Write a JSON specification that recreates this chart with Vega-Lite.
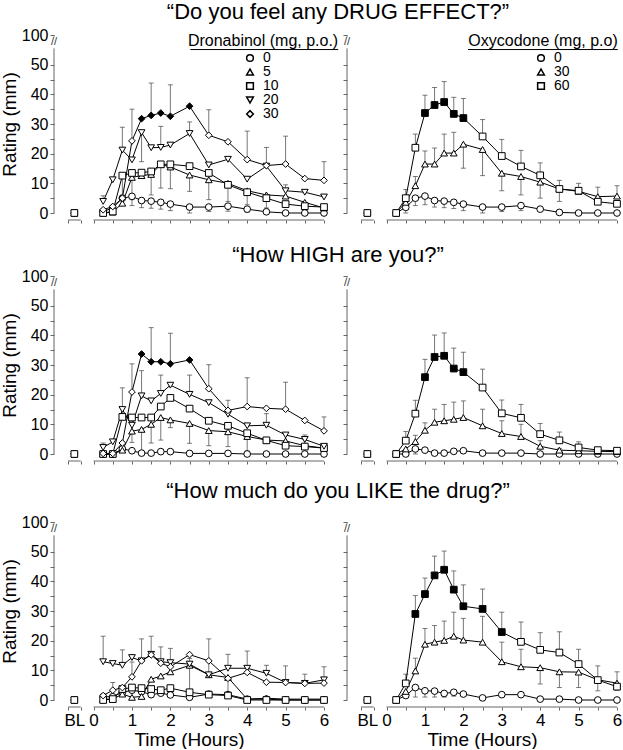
{
"$schema":"https://vega.github.io/schema/vega-lite/v6.json",
"config":{"font":"Liberation Sans","view":{"stroke":null},"axis":{"grid":false}},
"padding":{"left":0,"top":1,"right":0,"bottom":0},
"spacing":20,
"resolve":{"scale":{"shape":"independent"},"legend":{"shape":"independent"}},
"datasets":{
"effect_dro":[
{"dose":"0","t":-0.5,"r":0},
{"dose":"0","t":0.25,"r":0.5},{"dose":"0","t":0.5,"r":1.7},{"dose":"0","t":0.75,"r":5,"e":2.5},{"dose":"0","t":1,"r":5.6,"e":2.5},{"dose":"0","t":1.25,"r":4.2,"e":1.8},{"dose":"0","t":1.5,"r":4,"e":1.6},{"dose":"0","t":1.75,"r":3.6,"e":1.3},{"dose":"0","t":2,"r":3,"e":0.8},{"dose":"0","t":2.5,"r":2,"e":0},{"dose":"0","t":3,"r":2,"e":0.5},{"dose":"0","t":3.5,"r":2.3,"e":0.6},{"dose":"0","t":4,"r":1.3,"e":0.3},{"dose":"0","t":4.5,"r":0.4},{"dose":"0","t":5,"r":0},{"dose":"0","t":5.5,"r":0},{"dose":"0","t":6,"r":0},
{"dose":"5","t":0.25,"r":0},{"dose":"5","t":0.5,"r":0.3},{"dose":"5","t":0.75,"r":3.3},{"dose":"5","t":1,"r":12},{"dose":"5","t":1.25,"r":12.6},{"dose":"5","t":1.5,"r":13},{"dose":"5","t":1.75,"r":16.4,"e":8.4},{"dose":"5","t":2,"r":15.5,"e":8.2},{"dose":"5","t":2.5,"r":12.8,"e":7.3},{"dose":"5","t":3,"r":11.2,"e":4.5},{"dose":"5","t":3.5,"r":10},{"dose":"5","t":4,"r":7.5},{"dose":"5","t":4.5,"r":6.1},{"dose":"5","t":5,"r":5.7},{"dose":"5","t":5.5,"r":3.6},{"dose":"5","t":6,"r":1.7},
{"dose":"10","t":0.25,"r":0},{"dose":"10","t":0.5,"r":0.5},{"dose":"10","t":0.75,"r":12.6,"e":6},{"dose":"10","t":1,"r":13.5,"e":4.5},{"dose":"10","t":1.25,"r":13.6},{"dose":"10","t":1.5,"r":14,"e":6.1},{"dose":"10","t":1.75,"r":16.4},{"dose":"10","t":2,"r":16.4},{"dose":"10","t":2.5,"r":15.8},{"dose":"10","t":3,"r":13.5},{"dose":"10","t":3.5,"r":9.5,"e":3.9},{"dose":"10","t":4,"r":7,"e":2.8},{"dose":"10","t":4.5,"r":5,"e":1.7},{"dose":"10","t":5,"r":3},{"dose":"10","t":5.5,"r":2.3},{"dose":"10","t":6,"r":2},
{"dose":"20","t":0.25,"r":3.9,"e":5.8},{"dose":"20","t":0.5,"r":11.2},{"dose":"20","t":0.75,"r":21.2,"e":28.9},{"dose":"20","t":1,"r":17.9},{"dose":"20","t":1.25,"r":27.1,"e":17.3},{"dose":"20","t":1.5,"r":22},{"dose":"20","t":1.75,"r":22.1,"e":29.2},{"dose":"20","t":2,"r":22.9},{"dose":"20","t":2.5,"r":26.8,"e":30.7},{"dose":"20","t":3,"r":16.2},{"dose":"20","t":3.5,"r":18.1},{"dose":"20","t":4,"r":11.4},{"dose":"20","t":4.5,"r":15.8,"e":22.1},{"dose":"20","t":5,"r":7.5,"e":9.5},{"dose":"20","t":5.5,"r":7},{"dose":"20","t":6,"r":5.4},
{"dose":"30","t":0.25,"r":1.1},{"dose":"30","t":0.5,"r":2.2},{"dose":"30","t":0.75,"r":5},{"dose":"30","t":1,"r":24.3,"e":35},{"dose":"30","t":1.25,"r":31.8,"sig":1},{"dose":"30","t":1.5,"r":32.9,"e":43.8,"sig":1},{"dose":"30","t":1.75,"r":33.7,"sig":1},{"dose":"30","t":2,"r":32.6,"e":43.2,"sig":1},{"dose":"30","t":2.5,"r":36,"sig":1},{"dose":"30","t":3,"r":26.2,"e":34.8},{"dose":"30","t":3.5,"r":24},{"dose":"30","t":4,"r":18,"e":27.6},{"dose":"30","t":4.5,"r":16},{"dose":"30","t":5,"r":16.5,"e":25.9},{"dose":"30","t":5.5,"r":11.6},{"dose":"30","t":6,"r":11,"e":17.3},
{"dose":"5","t":-0.5,"r":0},{"dose":"20","t":-0.5,"r":0},{"dose":"30","t":-0.5,"r":0},{"dose":"10","t":-0.5,"r":0}
],
"effect_oxy":[
{"dose":"0","t":-0.5,"r":0},
{"dose":"0","t":0.25,"r":0},{"dose":"0","t":0.5,"r":1.9,"e":0},{"dose":"0","t":0.75,"r":5,"e":2.5},{"dose":"0","t":1,"r":5.7,"e":2.8},{"dose":"0","t":1.25,"r":4.2,"e":2},{"dose":"0","t":1.5,"r":4,"e":1.8},{"dose":"0","t":1.75,"r":3.6,"e":1.5},{"dose":"0","t":2,"r":3,"e":0.8},{"dose":"0","t":2.5,"r":2,"e":0},{"dose":"0","t":3,"r":2,"e":0.5},{"dose":"0","t":3.5,"r":2.5,"e":0.8},{"dose":"0","t":4,"r":1.3},{"dose":"0","t":4.5,"r":0.2},{"dose":"0","t":5,"r":0},{"dose":"0","t":5.5,"r":0},{"dose":"0","t":6,"r":0},
{"dose":"30","t":0.25,"r":0},{"dose":"30","t":0.5,"r":3.6},{"dose":"30","t":0.75,"r":9.2,"e":12.3},{"dose":"30","t":1,"r":16.5,"e":20.9},{"dose":"30","t":1.25,"r":16.5,"e":21.9},{"dose":"30","t":1.5,"r":20.2,"e":26.6},{"dose":"30","t":1.75,"r":20.2,"e":27.2},{"dose":"30","t":2,"r":23.2,"e":15.1},{"dose":"30","t":2.5,"r":21.4,"e":12.6},{"dose":"30","t":3,"r":13.4,"e":7.5},{"dose":"30","t":3.5,"r":12.3,"e":6.1},{"dose":"30","t":4,"r":10.4,"e":5},{"dose":"30","t":4.5,"r":8.1,"e":3.9},{"dose":"30","t":5,"r":7.3,"e":10},{"dose":"30","t":5.5,"r":5.5,"e":8.7},{"dose":"30","t":6,"r":5.7,"e":9.2},
{"dose":"60","t":0.25,"r":0},{"dose":"60","t":0.5,"r":5,"e":7.9},{"dose":"60","t":0.75,"r":22,"e":26.6},{"dose":"60","t":1,"r":33.7,"e":39.7,"sig":1},{"dose":"60","t":1.25,"r":36.4,"e":42.3,"sig":1},{"dose":"60","t":1.5,"r":37.4,"e":44.3,"sig":1},{"dose":"60","t":1.75,"r":33.4,"e":39,"sig":1},{"dose":"60","t":2,"r":32,"e":38.6,"sig":1},{"dose":"60","t":2.5,"r":25.8,"e":31.5},{"dose":"60","t":3,"r":19.2,"e":24.8},{"dose":"60","t":3.5,"r":15.7,"e":21.1},{"dose":"60","t":4,"r":12.7,"e":16.9},{"dose":"60","t":4.5,"r":8.1,"e":11},{"dose":"60","t":5,"r":7.5},{"dose":"60","t":5.5,"r":3.8},{"dose":"60","t":6,"r":3.1},
{"dose":"30","t":-0.5,"r":0},{"dose":"60","t":-0.5,"r":0}
],
"high_dro":[
{"dose":"0","t":-0.5,"r":0},
{"dose":"0","t":0.25,"r":0},{"dose":"0","t":0.5,"r":0},{"dose":"0","t":0.75,"r":1.7},{"dose":"0","t":1,"r":1.1},{"dose":"0","t":1.25,"r":0.3},{"dose":"0","t":1.5,"r":0.3},{"dose":"0","t":1.75,"r":0.8},{"dose":"0","t":2,"r":0.8},{"dose":"0","t":2.5,"r":0.2},{"dose":"0","t":3,"r":0.2},{"dose":"0","t":3.5,"r":0.2},{"dose":"0","t":4,"r":0},{"dose":"0","t":4.5,"r":0},{"dose":"0","t":5,"r":0},{"dose":"0","t":5.5,"r":0},{"dose":"0","t":6,"r":0},
{"dose":"5","t":0.25,"r":0},{"dose":"5","t":0.5,"r":0},{"dose":"5","t":0.75,"r":1.3},{"dose":"5","t":1,"r":7.7},{"dose":"5","t":1.25,"r":8.3,"e":0.5},{"dose":"5","t":1.5,"r":10,"e":3.7},{"dose":"5","t":1.75,"r":12.3,"e":4.7},{"dose":"5","t":2,"r":11.5,"e":8.9},{"dose":"5","t":2.5,"r":10.3,"e":3.6},{"dose":"5","t":3,"r":7.9,"e":2.8},{"dose":"5","t":3.5,"r":7.5,"e":2.5},{"dose":"5","t":4,"r":5.9,"e":1},{"dose":"5","t":4.5,"r":4.7},{"dose":"5","t":5,"r":4.4},{"dose":"5","t":5.5,"r":2.8},{"dose":"5","t":6,"r":2},
{"dose":"10","t":0.25,"r":0},{"dose":"10","t":0.5,"r":0},{"dose":"10","t":0.75,"r":12.5},{"dose":"10","t":1,"r":12.3,"e":3.9},{"dose":"10","t":1.25,"r":12.3},{"dose":"10","t":1.5,"r":12.3},{"dose":"10","t":1.75,"r":16},{"dose":"10","t":2,"r":18.9},{"dose":"10","t":2.5,"r":15.3},{"dose":"10","t":3,"r":11.2},{"dose":"10","t":3.5,"r":9.5},{"dose":"10","t":4,"r":7},{"dose":"10","t":4.5,"r":4.6},{"dose":"10","t":5,"r":2.8},{"dose":"10","t":5.5,"r":2.5},{"dose":"10","t":6,"r":2},
{"dose":"20","t":0.25,"r":2.2,"e":3.7},{"dose":"20","t":0.5,"r":4.1},{"dose":"20","t":0.75,"r":15,"e":22.3},{"dose":"20","t":1,"r":9.7},{"dose":"20","t":1.25,"r":19.6,"e":28.1},{"dose":"20","t":1.5,"r":17.9},{"dose":"20","t":1.75,"r":20.4,"e":26.6},{"dose":"20","t":2,"r":23.2},{"dose":"20","t":2.5,"r":20.1,"e":26.6},{"dose":"20","t":3,"r":17.3},{"dose":"20","t":3.5,"r":13.4},{"dose":"20","t":4,"r":9.5},{"dose":"20","t":4.5,"r":9.7,"e":13.6},{"dose":"20","t":5,"r":6.4},{"dose":"20","t":5.5,"r":4.9,"e":6.4},{"dose":"20","t":6,"r":2.6},
{"dose":"30","t":0.25,"r":0.2},{"dose":"30","t":0.5,"r":0.2},{"dose":"30","t":0.75,"r":3.7},{"dose":"30","t":1,"r":20.9,"e":30.4},{"dose":"30","t":1.25,"r":33.7,"sig":1},{"dose":"30","t":1.5,"r":31.1,"e":42.6,"sig":1},{"dose":"30","t":1.75,"r":31.1,"sig":1},{"dose":"30","t":2,"r":30.4,"e":40.7,"sig":1},{"dose":"30","t":2.5,"r":31.7,"sig":1},{"dose":"30","t":3,"r":22,"e":30.1},{"dose":"30","t":3.5,"r":14.7,"e":18.1},{"dose":"30","t":4,"r":16,"e":25.7},{"dose":"30","t":4.5,"r":15.4},{"dose":"30","t":5,"r":15.1,"e":24.2},{"dose":"30","t":5.5,"r":11.3},{"dose":"30","t":6,"r":7.8,"e":12.5},
{"dose":"5","t":-0.5,"r":0},{"dose":"20","t":-0.5,"r":0},{"dose":"30","t":-0.5,"r":0},{"dose":"10","t":-0.5,"r":0}
],
"high_oxy":[
{"dose":"0","t":-0.5,"r":0},
{"dose":"0","t":0.25,"r":0},{"dose":"0","t":0.5,"r":0},{"dose":"0","t":0.75,"r":1.7,"e":0},{"dose":"0","t":1,"r":1.3},{"dose":"0","t":1.25,"r":0.3},{"dose":"0","t":1.5,"r":0.3},{"dose":"0","t":1.75,"r":0.9},{"dose":"0","t":2,"r":1.1},{"dose":"0","t":2.5,"r":0.3},{"dose":"0","t":3,"r":0.3},{"dose":"0","t":3.5,"r":0.3},{"dose":"0","t":4,"r":0},{"dose":"0","t":4.5,"r":0},{"dose":"0","t":5,"r":0},{"dose":"0","t":5.5,"r":0},{"dose":"0","t":6,"r":0},
{"dose":"30","t":0.25,"r":0},{"dose":"30","t":0.5,"r":1.7},{"dose":"30","t":0.75,"r":4.2,"e":6.3},{"dose":"30","t":1,"r":8,"e":10.5},{"dose":"30","t":1.25,"r":10.7,"e":15.1},{"dose":"30","t":1.5,"r":11.2,"e":16.7},{"dose":"30","t":1.75,"r":11.7,"e":17.5},{"dose":"30","t":2,"r":12.3,"e":17.9},{"dose":"30","t":2.5,"r":9.5,"e":15.1},{"dose":"30","t":3,"r":6.9,"e":11.2},{"dose":"30","t":3.5,"r":5.9,"e":10},{"dose":"30","t":4,"r":2.6,"e":4.5},{"dose":"30","t":4.5,"r":1.3,"e":1.9},{"dose":"30","t":5,"r":1.1},{"dose":"30","t":5.5,"r":0.9},{"dose":"30","t":6,"r":0.8},
{"dose":"60","t":0.25,"r":0},{"dose":"60","t":0.5,"r":4.5,"e":7.6},{"dose":"60","t":0.75,"r":13.6,"e":18.1},{"dose":"60","t":1,"r":25.9,"e":31.9,"sig":1},{"dose":"60","t":1.25,"r":32.7,"e":40.1,"sig":1},{"dose":"60","t":1.5,"r":33.1,"e":40.8,"sig":1},{"dose":"60","t":1.75,"r":28.8,"e":35.7,"sig":1},{"dose":"60","t":2,"r":27.6,"e":34.3,"sig":1},{"dose":"60","t":2.5,"r":22.4,"e":28.6},{"dose":"60","t":3,"r":13.7,"e":18.2},{"dose":"60","t":3.5,"r":12.2,"e":16.7},{"dose":"60","t":4,"r":6.7,"e":10.3},{"dose":"60","t":4.5,"r":4.6,"e":7.4},{"dose":"60","t":5,"r":2.2,"e":4.1},{"dose":"60","t":5.5,"r":1.3,"e":1.6},{"dose":"60","t":6,"r":1.1},
{"dose":"30","t":-0.5,"r":0},{"dose":"60","t":-0.5,"r":0}
],
"like_dro":[
{"dose":"0","t":-0.5,"r":0},
{"dose":"0","t":0.25,"r":1.1},{"dose":"0","t":0.5,"r":1.1},{"dose":"0","t":0.75,"r":2.6},{"dose":"0","t":1,"r":3.3},{"dose":"0","t":1.25,"r":2.8},{"dose":"0","t":1.5,"r":1.8},{"dose":"0","t":1.75,"r":2.3},{"dose":"0","t":2,"r":1.7},{"dose":"0","t":2.5,"r":0.9},{"dose":"0","t":3,"r":2},{"dose":"0","t":3.5,"r":1.8},{"dose":"0","t":4,"r":0.3},{"dose":"0","t":4.5,"r":0.3},{"dose":"0","t":5,"r":0},{"dose":"0","t":5.5,"r":0},{"dose":"0","t":6,"r":0},
{"dose":"5","t":0.25,"r":0.3},{"dose":"5","t":0.5,"r":0.3},{"dose":"5","t":0.75,"r":2},{"dose":"5","t":1,"r":0.9},{"dose":"5","t":1.25,"r":1.2},{"dose":"5","t":1.5,"r":7},{"dose":"5","t":1.75,"r":8.1},{"dose":"5","t":2,"r":9.5},{"dose":"5","t":2.5,"r":11.7,"e":0.5},{"dose":"5","t":3,"r":8.5},{"dose":"5","t":3.5,"r":7.6,"e":2},{"dose":"5","t":4,"r":0.3},{"dose":"5","t":4.5,"r":0.6},{"dose":"5","t":5,"r":0.3},{"dose":"5","t":5.5,"r":0.3},{"dose":"5","t":6,"r":0.3},
{"dose":"10","t":0.25,"r":0},{"dose":"10","t":0.5,"r":0.3},{"dose":"10","t":0.75,"r":3.7},{"dose":"10","t":1,"r":4.2},{"dose":"10","t":1.25,"r":4},{"dose":"10","t":1.5,"r":3.7},{"dose":"10","t":1.75,"r":3.3},{"dose":"10","t":2,"r":4},{"dose":"10","t":2.5,"r":2.6},{"dose":"10","t":3,"r":1.8},{"dose":"10","t":3.5,"r":1.5},{"dose":"10","t":4,"r":0},{"dose":"10","t":4.5,"r":0},{"dose":"10","t":5,"r":0},{"dose":"10","t":5.5,"r":0},{"dose":"10","t":6,"r":0},
{"dose":"20","t":0.25,"r":12.9,"e":21.5},{"dose":"20","t":0.5,"r":12.3},{"dose":"20","t":0.75,"r":11.7,"e":16.9},{"dose":"20","t":1,"r":14.3},{"dose":"20","t":1.25,"r":13.2,"e":20.6},{"dose":"20","t":1.5,"r":15.4,"e":21.5},{"dose":"20","t":1.75,"r":12.9,"e":17.9},{"dose":"20","t":2,"r":12.6,"e":17.4},{"dose":"20","t":2.5,"r":12.1,"e":14},{"dose":"20","t":3,"r":8.5,"e":20.6},{"dose":"20","t":3.5,"r":10.7,"e":15.4},{"dose":"20","t":4,"r":10.7,"e":16.5},{"dose":"20","t":4.5,"r":9,"e":11.7},{"dose":"20","t":5,"r":5.9,"e":11.5},{"dose":"20","t":5.5,"r":5.6,"e":8.7},{"dose":"20","t":6,"r":6.8,"e":11.2},
{"dose":"30","t":0.25,"r":1.5},{"dose":"30","t":0.5,"r":3.3,"e":5.9},{"dose":"30","t":0.75,"r":4.2},{"dose":"30","t":1,"r":7.8,"e":12.8},{"dose":"30","t":1.25,"r":13.2},{"dose":"30","t":1.5,"r":15.2},{"dose":"30","t":1.75,"r":12.4},{"dose":"30","t":2,"r":11.2},{"dose":"30","t":2.5,"r":15.3},{"dose":"30","t":3,"r":13.2},{"dose":"30","t":3.5,"r":7.3},{"dose":"30","t":4,"r":9.3},{"dose":"30","t":4.5,"r":6},{"dose":"30","t":5,"r":5.9},{"dose":"30","t":5.5,"r":5.6},{"dose":"30","t":6,"r":5.7},
{"dose":"5","t":-0.5,"r":0},{"dose":"20","t":-0.5,"r":0},{"dose":"30","t":-0.5,"r":0},{"dose":"10","t":-0.5,"r":0}
],
"like_oxy":[
{"dose":"0","t":-0.5,"r":0},
{"dose":"0","t":0.25,"r":0},{"dose":"0","t":0.5,"r":1.5},{"dose":"0","t":0.75,"r":4.2,"e":1},{"dose":"0","t":1,"r":3.1,"e":1},{"dose":"0","t":1.25,"r":3,"e":1},{"dose":"0","t":1.5,"r":2.2,"e":1},{"dose":"0","t":1.75,"r":2.6,"e":1.3},{"dose":"0","t":2,"r":2},{"dose":"0","t":2.5,"r":0.7},{"dose":"0","t":3,"r":1.8},{"dose":"0","t":3.5,"r":1.8},{"dose":"0","t":4,"r":0.3},{"dose":"0","t":4.5,"r":0.3},{"dose":"0","t":5,"r":0},{"dose":"0","t":5.5,"r":0},{"dose":"0","t":6,"r":0},
{"dose":"30","t":0.25,"r":0},{"dose":"30","t":0.5,"r":2.9},{"dose":"30","t":0.75,"r":9.8,"e":14.1},{"dose":"30","t":1,"r":18.8,"e":24.1},{"dose":"30","t":1.25,"r":19.5,"e":25.1},{"dose":"30","t":1.5,"r":20.1,"e":26.6},{"dose":"30","t":1.75,"r":21.5,"e":29.6},{"dose":"30","t":2,"r":20.2,"e":27.5},{"dose":"30","t":2.5,"r":19.5,"e":28.2},{"dose":"30","t":3,"r":12.9,"e":19.5},{"dose":"30","t":3.5,"r":11.2,"e":17.1},{"dose":"30","t":4,"r":10.9,"e":5.4},{"dose":"30","t":4.5,"r":9.5,"e":4.2},{"dose":"30","t":5,"r":9.4,"e":4.2},{"dose":"30","t":5.5,"r":6.8,"e":3.1},{"dose":"30","t":6,"r":5.7,"e":3.3},
{"dose":"60","t":0.25,"r":0},{"dose":"60","t":0.5,"r":5.6,"e":8.7},{"dose":"60","t":0.75,"r":29,"e":35.2,"sig":1},{"dose":"60","t":1,"r":35.7,"e":41.1,"sig":1},{"dose":"60","t":1.25,"r":42,"e":48.5,"sig":1},{"dose":"60","t":1.5,"r":43.9,"e":50.2,"sig":1},{"dose":"60","t":1.75,"r":37.2,"e":43.5,"sig":1},{"dose":"60","t":2,"r":31.6,"e":38.8,"sig":1},{"dose":"60","t":2.5,"r":30.7,"e":37.4,"sig":1},{"dose":"60","t":3,"r":22.9,"e":29.6,"sig":1},{"dose":"60","t":3.5,"r":19.6,"e":26.3},{"dose":"60","t":4,"r":16.9,"e":22.7},{"dose":"60","t":4.5,"r":16,"e":23},{"dose":"60","t":5,"r":12.1,"e":17.1},{"dose":"60","t":5.5,"r":6.7,"e":11.5},{"dose":"60","t":6,"r":4.5,"e":9.5},
{"dose":"30","t":-0.5,"r":0},{"dose":"60","t":-0.5,"r":0}
]
},
"vconcat":[
{"bounds":"flush","spacing":23,
 "resolve":{"scale":{"shape":"independent"},"legend":{"shape":"independent"}},
 "hconcat":[
  {"width":270,"height":178,"data":{"name":"effect_dro"},
   "title":{"text":"“Do you feel any DRUG EFFECT?”","fontSize":22,"fontWeight":"normal","anchor":"middle","frame":"group","dx":149,"offset":3,"color":"black"},
   "encoding":{
    "x":{"field":"t","type":"quantitative","scale":{"domain":[-1.03,6],"nice":false,"zero":false},"axis":{"values":[-0.667,-0.5,-0.333,0,0.5,1,1.5,2,2.5,3,3.5,4,4.5,5,5.5,6],"labels":false,"title":null,"domain":false,"offset":7,"tickSize":3,"tickColor":"#666","tickOpacity":{"condition":{"test":"datum.value == -0.5","value":0},"value":1},"grid":false}},
    "y":{"field":"r","type":"quantitative","scale":{"domain":[0,60],"nice":false,"zero":false},"axis":{"values":[0,5,10,15,20,25,30,35,40,45,50,60],"labelExpr":"datum.value == 60 ? '100' : (datum.value % 10 == 0 ? format(datum.value, 'd') : '')","labelFontSize":16,"labelPadding":2,"labelFlush":false,"labelOverlap":false,"labelColor":"black","title":"Rating (mm)","titleFontSize":19,"titleFontWeight":"normal","titlePadding":2,"titleColor":"black","domain":false,"tickSize":4,"tickColor":"#666","grid":false}}},
   "layer":[
    {"transform":[{"filter":"datum.t == -0.5 && datum.dose == '0'"}],"mark":{"type":"rule","color":"#666"},"encoding":{"x":{"datum":-1.03},"y":{"datum":0},"y2":{"datum":55.5}}},
    {"transform":[{"filter":"datum.t == -0.5 && datum.dose == '0'"}],"mark":{"type":"rule","color":"#666"},"encoding":{"x":{"datum":-1.03},"y":{"datum":59.4},"y2":{"datum":60}}},
    {"transform":[{"filter":"datum.t == -0.5 && datum.dose == '0'"}],"mark":{"type":"text","text":"//","fontSize":11,"color":"#333"},"encoding":{"x":{"datum":-1.03},"y":{"datum":57.5}}},
    {"transform":[{"filter":"datum.t == -0.5 && datum.dose == '0'"}],"mark":{"type":"rule","color":"#666"},"encoding":{"x":{"datum":-0.667},"x2":{"datum":-0.333},"y":{"datum":-2.36}}},
    {"transform":[{"filter":"datum.t == -0.5 && datum.dose == '0'"}],"mark":{"type":"rule","color":"#666"},"encoding":{"x":{"datum":0},"x2":{"datum":6},"y":{"datum":-2.36}}},
    {"transform":[{"filter":"datum.t == -0.5 && datum.dose == '0'"}],"mark":{"type":"text","text":"Dronabinol (mg, p.o.)","align":"right","baseline":"alphabetic","fontSize":16,"color":"black"},"encoding":{"x":{"datum":6.37},"y":{"datum":56.2}}},
    {"transform":[{"filter":"datum.t == -0.5 && datum.dose == '0'"}],"mark":{"type":"rule","color":"black"},"encoding":{"x":{"datum":2.52},"x2":{"datum":6.37},"y":{"datum":55.1}}},
    {"transform":[{"filter":"isValid(datum.e)"}],"mark":{"type":"rule","color":"#777"},"encoding":{"y2":{"field":"e"}}},
    {"transform":[{"filter":"isValid(datum.e)"}],"mark":{"type":"tick","orient":"horizontal","size":5,"thickness":1,"color":"#444"},"encoding":{"y":{"field":"e","type":"quantitative"}}},
    {"transform":[{"filter":"datum.t >= 0"}],"mark":{"type":"line","color":"black","strokeWidth":1},"encoding":{"detail":{"field":"dose"}}},
    {"mark":{"type":"point","filled":true,"stroke":"black","strokeWidth":1,"size":45,"opacity":1},
     "encoding":{"shape":{"field":"dose","type":"nominal","scale":{"domain":["0","5","10","20","30"],"range":["circle","triangle-up","square","triangle-down","diamond"]},"legend":{"orient":"none","legendX":189,"legendY":16,"title":null,"labelFontSize":14,"labelColor":"black","symbolSize":45,"rowPadding":-4,"labelOffset":6,"padding":0,"encode":{"symbols":{"update":{"fill":{"value":"white"},"stroke":{"value":"black"},"strokeWidth":{"value":1},"opacity":{"value":1}}}}}},
      "fill":{"condition":{"test":"datum.sig == 1","value":"black"},"value":"white"}}}
   ]},
  {"width":270,"height":178,"data":{"name":"effect_oxy"},
   "encoding":{
    "x":{"field":"t","type":"quantitative","scale":{"domain":[-1.03,6],"nice":false,"zero":false},"axis":{"values":[-0.667,-0.5,-0.333,0,0.5,1,1.5,2,2.5,3,3.5,4,4.5,5,5.5,6],"labels":false,"title":null,"domain":false,"offset":7,"tickSize":3,"tickColor":"#666","tickOpacity":{"condition":{"test":"datum.value == -0.5","value":0},"value":1},"grid":false}},
    "y":{"field":"r","type":"quantitative","scale":{"domain":[0,60],"nice":false,"zero":false},"axis":{"values":[0,5,10,15,20,25,30,35,40,45,50,60],"labels":false,"title":null,"domain":false,"tickSize":4,"tickColor":"#666","grid":false}}},
   "layer":[
    {"transform":[{"filter":"datum.t == -0.5 && datum.dose == '0'"}],"mark":{"type":"rule","color":"#666"},"encoding":{"x":{"datum":-1.03},"y":{"datum":0},"y2":{"datum":55.5}}},
    {"transform":[{"filter":"datum.t == -0.5 && datum.dose == '0'"}],"mark":{"type":"rule","color":"#666"},"encoding":{"x":{"datum":-1.03},"y":{"datum":59.4},"y2":{"datum":60}}},
    {"transform":[{"filter":"datum.t == -0.5 && datum.dose == '0'"}],"mark":{"type":"text","text":"//","fontSize":11,"color":"#333"},"encoding":{"x":{"datum":-1.03},"y":{"datum":57.5}}},
    {"transform":[{"filter":"datum.t == -0.5 && datum.dose == '0'"}],"mark":{"type":"rule","color":"#666"},"encoding":{"x":{"datum":-0.667},"x2":{"datum":-0.333},"y":{"datum":-2.36}}},
    {"transform":[{"filter":"datum.t == -0.5 && datum.dose == '0'"}],"mark":{"type":"rule","color":"#666"},"encoding":{"x":{"datum":0},"x2":{"datum":6},"y":{"datum":-2.36}}},
    {"transform":[{"filter":"datum.t == -0.5 && datum.dose == '0'"}],"mark":{"type":"text","text":"Oxycodone (mg, p.o)","align":"right","baseline":"alphabetic","fontSize":16,"color":"black"},"encoding":{"x":{"datum":6.02},"y":{"datum":56.2}}},
    {"transform":[{"filter":"datum.t == -0.5 && datum.dose == '0'"}],"mark":{"type":"rule","color":"black"},"encoding":{"x":{"datum":2.12},"x2":{"datum":6.02},"y":{"datum":55.1}}},
    {"transform":[{"filter":"isValid(datum.e)"}],"mark":{"type":"rule","color":"#777"},"encoding":{"y2":{"field":"e"}}},
    {"transform":[{"filter":"isValid(datum.e)"}],"mark":{"type":"tick","orient":"horizontal","size":5,"thickness":1,"color":"#444"},"encoding":{"y":{"field":"e","type":"quantitative"}}},
    {"transform":[{"filter":"datum.t >= 0"}],"mark":{"type":"line","color":"black","strokeWidth":1},"encoding":{"detail":{"field":"dose"}}},
    {"mark":{"type":"point","filled":true,"stroke":"black","strokeWidth":1,"size":45,"opacity":1},
     "encoding":{"shape":{"field":"dose","type":"nominal","scale":{"domain":["0","30","60"],"range":["circle","triangle-up","square"]},"legend":{"orient":"none","legendX":187,"legendY":16,"title":null,"labelFontSize":14,"labelColor":"black","symbolSize":45,"rowPadding":-4,"labelOffset":6,"padding":0,"encode":{"symbols":{"update":{"fill":{"value":"white"},"stroke":{"value":"black"},"strokeWidth":{"value":1},"opacity":{"value":1}}}}}},
      "fill":{"condition":{"test":"datum.sig == 1","value":"black"},"value":"white"}}}
   ]}
 ]},
{"spacing":15,
 "resolve":{"scale":{"shape":"independent"},"legend":{"shape":"independent"}},
 "vconcat":[
 {"bounds":"flush","spacing":23,
  "resolve":{"scale":{"shape":"independent"},"legend":{"shape":"independent"}},
  "hconcat":[
   {"width":270,"height":178,"data":{"name":"high_dro"},
    "title":{"text":"“How HIGH are you?”","fontSize":22,"fontWeight":"normal","anchor":"middle","frame":"group","dx":149,"offset":1,"color":"black"},
    "encoding":{
     "x":{"field":"t","type":"quantitative","scale":{"domain":[-1.03,6],"nice":false,"zero":false},"axis":{"values":[-0.667,-0.5,-0.333,0,0.5,1,1.5,2,2.5,3,3.5,4,4.5,5,5.5,6],"labels":false,"title":null,"domain":false,"offset":7,"tickSize":3,"tickColor":"#666","tickOpacity":{"condition":{"test":"datum.value == -0.5","value":0},"value":1},"grid":false}},
     "y":{"field":"r","type":"quantitative","scale":{"domain":[0,60],"nice":false,"zero":false},"axis":{"values":[0,5,10,15,20,25,30,35,40,45,50,60],"labelExpr":"datum.value == 60 ? '100' : (datum.value % 10 == 0 ? format(datum.value, 'd') : '')","labelFontSize":16,"labelPadding":2,"labelFlush":false,"labelOverlap":false,"labelColor":"black","title":"Rating (mm)","titleFontSize":19,"titleFontWeight":"normal","titlePadding":2,"titleColor":"black","domain":false,"tickSize":4,"tickColor":"#666","grid":false}}},
    "layer":[
     {"transform":[{"filter":"datum.t == -0.5 && datum.dose == '0'"}],"mark":{"type":"rule","color":"#666"},"encoding":{"x":{"datum":-1.03},"y":{"datum":0},"y2":{"datum":55.5}}},
     {"transform":[{"filter":"datum.t == -0.5 && datum.dose == '0'"}],"mark":{"type":"rule","color":"#666"},"encoding":{"x":{"datum":-1.03},"y":{"datum":59.4},"y2":{"datum":60}}},
     {"transform":[{"filter":"datum.t == -0.5 && datum.dose == '0'"}],"mark":{"type":"text","text":"//","fontSize":11,"color":"#333"},"encoding":{"x":{"datum":-1.03},"y":{"datum":57.5}}},
     {"transform":[{"filter":"datum.t == -0.5 && datum.dose == '0'"}],"mark":{"type":"rule","color":"#666"},"encoding":{"x":{"datum":-0.667},"x2":{"datum":-0.333},"y":{"datum":-2.36}}},
     {"transform":[{"filter":"datum.t == -0.5 && datum.dose == '0'"}],"mark":{"type":"rule","color":"#666"},"encoding":{"x":{"datum":0},"x2":{"datum":6},"y":{"datum":-2.36}}},
     {"transform":[{"filter":"isValid(datum.e)"}],"mark":{"type":"rule","color":"#777"},"encoding":{"y2":{"field":"e"}}},
     {"transform":[{"filter":"isValid(datum.e)"}],"mark":{"type":"tick","orient":"horizontal","size":5,"thickness":1,"color":"#444"},"encoding":{"y":{"field":"e","type":"quantitative"}}},
     {"transform":[{"filter":"datum.t >= 0"}],"mark":{"type":"line","color":"black","strokeWidth":1},"encoding":{"detail":{"field":"dose"}}},
     {"mark":{"type":"point","filled":true,"stroke":"black","strokeWidth":1,"size":45,"opacity":1},
      "encoding":{"shape":{"field":"dose","type":"nominal","scale":{"domain":["0","5","10","20","30"],"range":["circle","triangle-up","square","triangle-down","diamond"]},"legend":null},
       "fill":{"condition":{"test":"datum.sig == 1","value":"black"},"value":"white"}}}
    ]},
   {"width":270,"height":178,"data":{"name":"high_oxy"},
    "encoding":{
     "x":{"field":"t","type":"quantitative","scale":{"domain":[-1.03,6],"nice":false,"zero":false},"axis":{"values":[-0.667,-0.5,-0.333,0,0.5,1,1.5,2,2.5,3,3.5,4,4.5,5,5.5,6],"labels":false,"title":null,"domain":false,"offset":7,"tickSize":3,"tickColor":"#666","tickOpacity":{"condition":{"test":"datum.value == -0.5","value":0},"value":1},"grid":false}},
     "y":{"field":"r","type":"quantitative","scale":{"domain":[0,60],"nice":false,"zero":false},"axis":{"values":[0,5,10,15,20,25,30,35,40,45,50,60],"labels":false,"title":null,"domain":false,"tickSize":4,"tickColor":"#666","grid":false}}},
    "layer":[
     {"transform":[{"filter":"datum.t == -0.5 && datum.dose == '0'"}],"mark":{"type":"rule","color":"#666"},"encoding":{"x":{"datum":-1.03},"y":{"datum":0},"y2":{"datum":55.5}}},
     {"transform":[{"filter":"datum.t == -0.5 && datum.dose == '0'"}],"mark":{"type":"rule","color":"#666"},"encoding":{"x":{"datum":-1.03},"y":{"datum":59.4},"y2":{"datum":60}}},
     {"transform":[{"filter":"datum.t == -0.5 && datum.dose == '0'"}],"mark":{"type":"text","text":"//","fontSize":11,"color":"#333"},"encoding":{"x":{"datum":-1.03},"y":{"datum":57.5}}},
     {"transform":[{"filter":"datum.t == -0.5 && datum.dose == '0'"}],"mark":{"type":"rule","color":"#666"},"encoding":{"x":{"datum":-0.667},"x2":{"datum":-0.333},"y":{"datum":-2.36}}},
     {"transform":[{"filter":"datum.t == -0.5 && datum.dose == '0'"}],"mark":{"type":"rule","color":"#666"},"encoding":{"x":{"datum":0},"x2":{"datum":6},"y":{"datum":-2.36}}},
     {"transform":[{"filter":"isValid(datum.e)"}],"mark":{"type":"rule","color":"#777"},"encoding":{"y2":{"field":"e"}}},
     {"transform":[{"filter":"isValid(datum.e)"}],"mark":{"type":"tick","orient":"horizontal","size":5,"thickness":1,"color":"#444"},"encoding":{"y":{"field":"e","type":"quantitative"}}},
     {"transform":[{"filter":"datum.t >= 0"}],"mark":{"type":"line","color":"black","strokeWidth":1},"encoding":{"detail":{"field":"dose"}}},
     {"mark":{"type":"point","filled":true,"stroke":"black","strokeWidth":1,"size":45,"opacity":1},
      "encoding":{"shape":{"field":"dose","type":"nominal","scale":{"domain":["0","30","60"],"range":["circle","triangle-up","square"]},"legend":null},
       "fill":{"condition":{"test":"datum.sig == 1","value":"black"},"value":"white"}}}
    ]}
  ]},
 {"bounds":"flush","spacing":23,
  "resolve":{"scale":{"shape":"independent"},"legend":{"shape":"independent"}},
  "hconcat":[
   {"width":270,"height":178,"data":{"name":"like_dro"},
    "title":{"text":"“How much do you LIKE the drug?”","fontSize":22,"fontWeight":"normal","anchor":"middle","frame":"group","dx":149,"offset":11,"color":"black"},
    "encoding":{
     "x":{"field":"t","type":"quantitative","scale":{"domain":[-1.03,6],"nice":false,"zero":false},"axis":{"values":[-0.667,-0.5,-0.333,0,0.5,1,1.5,2,2.5,3,3.5,4,4.5,5,5.5,6],"labelExpr":"datum.value == -0.5 ? 'BL' : (datum.value >= 0 && datum.value == floor(datum.value) ? format(datum.value, 'd') : '')","labelFontSize":17,"labelPadding":2,"labelFlush":false,"labelOverlap":false,"labelColor":"black","title":"Time (Hours)","titleFontSize":19,"titleFontWeight":"normal","titlePadding":2,"titleColor":"black","domain":false,"offset":7,"tickSize":3,"tickColor":"#666","tickOpacity":{"condition":{"test":"datum.value == -0.5","value":0},"value":1},"grid":false}},
     "y":{"field":"r","type":"quantitative","scale":{"domain":[0,60],"nice":false,"zero":false},"axis":{"values":[0,5,10,15,20,25,30,35,40,45,50,60],"labelExpr":"datum.value == 60 ? '100' : (datum.value % 10 == 0 ? format(datum.value, 'd') : '')","labelFontSize":16,"labelPadding":2,"labelFlush":false,"labelOverlap":false,"labelColor":"black","title":"Rating (mm)","titleFontSize":19,"titleFontWeight":"normal","titlePadding":2,"titleColor":"black","domain":false,"tickSize":4,"tickColor":"#666","grid":false}}},
    "layer":[
     {"transform":[{"filter":"datum.t == -0.5 && datum.dose == '0'"}],"mark":{"type":"rule","color":"#666"},"encoding":{"x":{"datum":-1.03},"y":{"datum":0},"y2":{"datum":55.5}}},
     {"transform":[{"filter":"datum.t == -0.5 && datum.dose == '0'"}],"mark":{"type":"rule","color":"#666"},"encoding":{"x":{"datum":-1.03},"y":{"datum":59.4},"y2":{"datum":60}}},
     {"transform":[{"filter":"datum.t == -0.5 && datum.dose == '0'"}],"mark":{"type":"text","text":"//","fontSize":11,"color":"#333"},"encoding":{"x":{"datum":-1.03},"y":{"datum":57.5}}},
     {"transform":[{"filter":"datum.t == -0.5 && datum.dose == '0'"}],"mark":{"type":"rule","color":"#666"},"encoding":{"x":{"datum":-0.667},"x2":{"datum":-0.333},"y":{"datum":-2.36}}},
     {"transform":[{"filter":"datum.t == -0.5 && datum.dose == '0'"}],"mark":{"type":"rule","color":"#666"},"encoding":{"x":{"datum":0},"x2":{"datum":6},"y":{"datum":-2.36}}},
     {"transform":[{"filter":"isValid(datum.e)"}],"mark":{"type":"rule","color":"#777"},"encoding":{"y2":{"field":"e"}}},
     {"transform":[{"filter":"isValid(datum.e)"}],"mark":{"type":"tick","orient":"horizontal","size":5,"thickness":1,"color":"#444"},"encoding":{"y":{"field":"e","type":"quantitative"}}},
     {"transform":[{"filter":"datum.t >= 0"}],"mark":{"type":"line","color":"black","strokeWidth":1},"encoding":{"detail":{"field":"dose"}}},
     {"mark":{"type":"point","filled":true,"stroke":"black","strokeWidth":1,"size":45,"opacity":1},
      "encoding":{"shape":{"field":"dose","type":"nominal","scale":{"domain":["0","5","10","20","30"],"range":["circle","triangle-up","square","triangle-down","diamond"]},"legend":null},
       "fill":{"condition":{"test":"datum.sig == 1","value":"black"},"value":"white"}}}
    ]},
   {"width":270,"height":178,"data":{"name":"like_oxy"},
    "encoding":{
     "x":{"field":"t","type":"quantitative","scale":{"domain":[-1.03,6],"nice":false,"zero":false},"axis":{"values":[-0.667,-0.5,-0.333,0,0.5,1,1.5,2,2.5,3,3.5,4,4.5,5,5.5,6],"labelExpr":"datum.value == -0.5 ? 'BL' : (datum.value >= 0 && datum.value == floor(datum.value) ? format(datum.value, 'd') : '')","labelFontSize":17,"labelPadding":2,"labelFlush":false,"labelOverlap":false,"labelColor":"black","title":"Time (Hours)","titleFontSize":19,"titleFontWeight":"normal","titlePadding":2,"titleColor":"black","domain":false,"offset":7,"tickSize":3,"tickColor":"#666","tickOpacity":{"condition":{"test":"datum.value == -0.5","value":0},"value":1},"grid":false}},
     "y":{"field":"r","type":"quantitative","scale":{"domain":[0,60],"nice":false,"zero":false},"axis":{"values":[0,5,10,15,20,25,30,35,40,45,50,60],"labels":false,"title":null,"domain":false,"tickSize":4,"tickColor":"#666","grid":false}}},
    "layer":[
     {"transform":[{"filter":"datum.t == -0.5 && datum.dose == '0'"}],"mark":{"type":"rule","color":"#666"},"encoding":{"x":{"datum":-1.03},"y":{"datum":0},"y2":{"datum":55.5}}},
     {"transform":[{"filter":"datum.t == -0.5 && datum.dose == '0'"}],"mark":{"type":"rule","color":"#666"},"encoding":{"x":{"datum":-1.03},"y":{"datum":59.4},"y2":{"datum":60}}},
     {"transform":[{"filter":"datum.t == -0.5 && datum.dose == '0'"}],"mark":{"type":"text","text":"//","fontSize":11,"color":"#333"},"encoding":{"x":{"datum":-1.03},"y":{"datum":57.5}}},
     {"transform":[{"filter":"datum.t == -0.5 && datum.dose == '0'"}],"mark":{"type":"rule","color":"#666"},"encoding":{"x":{"datum":-0.667},"x2":{"datum":-0.333},"y":{"datum":-2.36}}},
     {"transform":[{"filter":"datum.t == -0.5 && datum.dose == '0'"}],"mark":{"type":"rule","color":"#666"},"encoding":{"x":{"datum":0},"x2":{"datum":6},"y":{"datum":-2.36}}},
     {"transform":[{"filter":"isValid(datum.e)"}],"mark":{"type":"rule","color":"#777"},"encoding":{"y2":{"field":"e"}}},
     {"transform":[{"filter":"isValid(datum.e)"}],"mark":{"type":"tick","orient":"horizontal","size":5,"thickness":1,"color":"#444"},"encoding":{"y":{"field":"e","type":"quantitative"}}},
     {"transform":[{"filter":"datum.t >= 0"}],"mark":{"type":"line","color":"black","strokeWidth":1},"encoding":{"detail":{"field":"dose"}}},
     {"mark":{"type":"point","filled":true,"stroke":"black","strokeWidth":1,"size":45,"opacity":1},
      "encoding":{"shape":{"field":"dose","type":"nominal","scale":{"domain":["0","30","60"],"range":["circle","triangle-up","square"]},"legend":null},
       "fill":{"condition":{"test":"datum.sig == 1","value":"black"},"value":"white"}}}
    ]}
  ]}
 ]}
]
}
